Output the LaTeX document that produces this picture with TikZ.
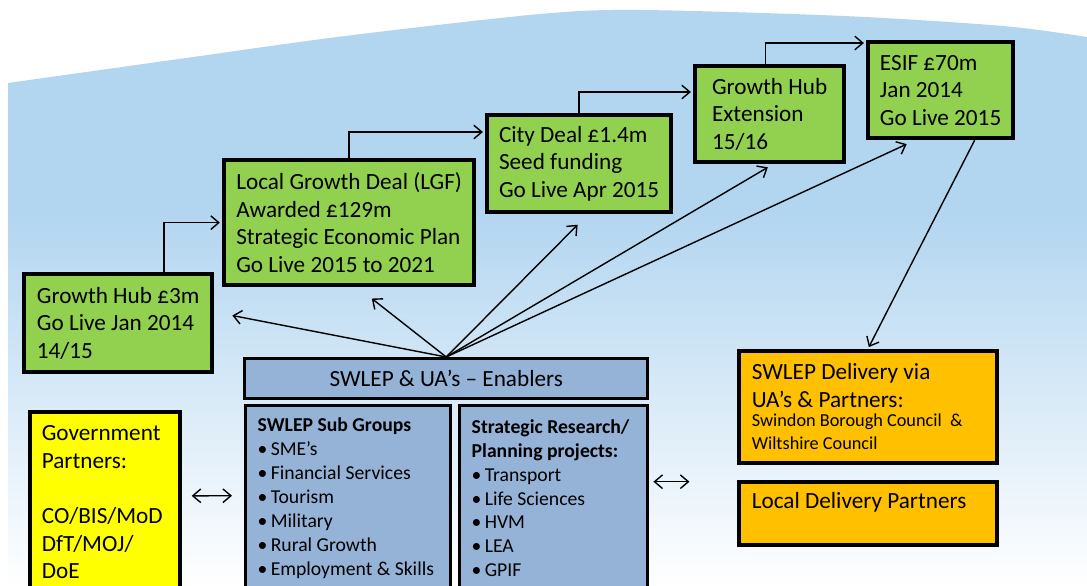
\documentclass[tikz,border=0pt]{standalone}
\usepackage{fontspec}
\setmainfont{Carlito}
\usepackage{xcolor}
\usepackage{tikz}
\usetikzlibrary{arrows.meta,positioning}

\definecolor{stagegreen}{RGB}{146,208,80}
\definecolor{enablerblue}{RGB}{149,179,215}
\definecolor{govyellow}{RGB}{255,255,0}
\definecolor{deliveryorange}{RGB}{255,192,0}
\definecolor{skyblue}{RGB}{178,213,240}
\newcommand{\bul}{\textbullet\,}

\begin{document}
\begin{tikzpicture}[
    x=0.025cm, y=-0.025cm,
    stage/.style={rectangle, draw=black, line width=3pt, fill=stagegreen, anchor=north west, align=flush left, inner sep=0pt, font=\fontsize{16.5}{19.6}\selectfont},
    enabler/.style={rectangle, draw=black, line width=2.4pt, fill=enablerblue, anchor=north west, inner sep=0pt},
    listbox/.style={enabler, align=flush left, inner xsep=0.3cm, font=\fontsize{14}{17}\selectfont},
    partner/.style={rectangle, draw=black, line width=2.6pt, anchor=north west, align=flush left, inner xsep=0.325cm, inner ysep=0pt, font=\fontsize{16.5}{19.6}\selectfont},
    link/.style={-{Straight Barb[length=2mm,width=3.4mm]}, line width=1pt, shorten >=1.5pt},
    both/.style={{Straight Barb[length=2mm,width=3.4mm]}-{Straight Barb[length=2mm,width=3.4mm]}, line width=1pt}
]
    \clip (0,0) rectangle (1087,586);
    % Background
    \fill[skyblue] (8,586) -- plot[smooth] coordinates {(8,83) (186,58) (345,36) (540,14) (640,10) (844,16) (1003,26) (1087,37)} -- (1087,586) -- cycle;
    \shade[top color=skyblue, bottom color=white] (8,210) rectangle (1087,586);

    % Funding stages
    \node[stage, minimum width=4.7cm, minimum height=2.45cm] (hub) at (22,272) {Growth Hub £3m\\Go Live Jan 2014\\14/15};
    \node[stage, minimum width=6.25cm, minimum height=3.125cm] (lgd) at (222,158) {Local Growth Deal (LGF)\\Awarded £129m\\Strategic Economic Plan\\Go Live 2015 to 2021};
    \node[stage, minimum width=4.6cm, minimum height=2.425cm] (city) at (485,113) {City Deal £1.4m\\Seed funding\\Go Live Apr 2015};
    \node[stage, minimum width=3.725cm, minimum height=2.4cm] (ghx) at (693,64) {Growth Hub\\Extension\\15/16};
    \node[stage, minimum width=3.625cm, minimum height=2.4cm] (esif) at (866,40) {ESIF £70m\\Jan 2014\\Go Live 2015};

    % Enablers
    \node[enabler, minimum width=10.075cm, minimum height=1cm, font=\fontsize{16.5}{19.6}\selectfont] (enab) at (243,357) {SWLEP \& UA’s – Enablers};
    \node[listbox, text width=4.525cm, minimum height=4.625cm] (sub) at (244,404) {\textbf{SWLEP Sub Groups}\\\bul SME’s\\\bul Financial Services\\\bul Tourism\\\bul Military\\\bul Rural Growth\\\bul Employment \& Skills};
    \node[listbox, text width=4.1cm, minimum height=4.625cm] (research) at (458,404) {\textbf{Strategic Research/}\\\textbf{Planning projects:}\\\bul Transport\\\bul Life Sciences\\\bul HVM\\\bul LEA\\\bul GPIF};

    % Partners
    \node[partner, fill=govyellow, inner xsep=0.3cm, text width=3.15cm, minimum height=4.525cm] (gov) at (28,410) {Government\\Partners:\\[19.6pt]CO/BIS/MoD\\DfT/MOJ/\\DoE};
    \node[partner, fill=deliveryorange, text width=5.8cm, minimum height=2.8cm] (deliv) at (737,349) {SWLEP Delivery via\\UA’s \& Partners:\\[-3pt]{\fontsize{13}{16.4}\selectfont Swindon Borough Council \ \&\\[-3pt]Wiltshire Council}};
    \node[partner, fill=deliveryorange, text width=5.8cm, minimum height=1.575cm, text depth=18pt] (local) at (737,480) {Local Delivery Partners};
    \coordinate (gap) at ([xshift=1cm,yshift=0.4125cm]research.east);

    % Steps
    \draw[link] ([xshift=1.15cm]hub.north) |- (lgd.west);
    \draw[link] (lgd.north) |- ([yshift=-0.475cm]city.north west);
    \draw[link] (city.north) |- ([yshift=-0.7cm]ghx.north west);
    \draw[link] ([xshift=-0.11cm]ghx.north) |- ([yshift=-0.075cm]esif.north west);

    % Spokes
    \draw[link] (enab.north) -- ([xshift=0.4cm,yshift=0.2cm]hub.east);
    \draw[link] (enab.north) -- ([xshift=0.525cm,yshift=-0.25cm]lgd.south);
    \draw[link] (enab.north) -- ([yshift=-0.225cm]city.south);
    \draw[link] (enab.north) -- ([yshift=-0.05cm]ghx.south);
    \draw[link] (enab.north) -- ([xshift=-0.8cm,yshift=-0.075cm]esif.south);
    \draw[link] ([xshift=0.85cm]esif.south) -- (deliv.north);
    \draw[both] ([xshift=0.25cm,yshift=0.1625cm]gov.east) -- ([xshift=-0.3cm,yshift=0.0625cm]sub.west);
    \draw[both] ([xshift=0.1cm,yshift=0.4125cm]research.east) -- (gap);
\end{tikzpicture}
\end{document}
